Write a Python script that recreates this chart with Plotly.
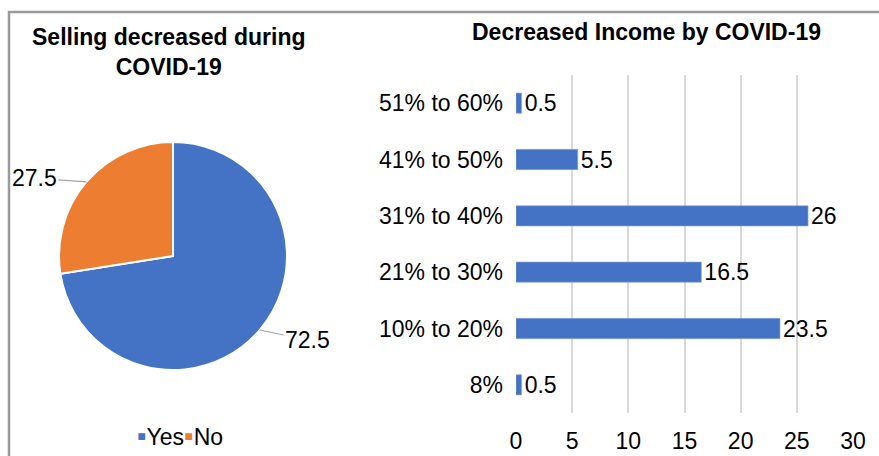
import math
import plotly.graph_objects as go

# Pie: did selling decrease during COVID-19?
pie_labels = ["Yes", "No"]
pie_values = [72.5, 27.5]
pie_colors = ["#4472C4", "#ED7D31"]

# Bar: share of income lost
income_bins = ["8%", "10% to 20%", "21% to 30%", "31% to 40%", "41% to 50%", "51% to 60%"]
income_values = [0.5, 23.5, 16.5, 26, 5.5, 0.5]
x_ticks = [0, 5, 10, 15, 20, 25, 30]

W, H = 879, 456
FONT = "Liberation Sans, Arial, sans-serif"
TXT = 23

def px_x(v):
    return v / W

def px_y(v):
    return 1 - v / H

fig = go.Figure()

# pie placement (pixels)
pie_cx, pie_cy, pie_r = 173, 256, 114
fig.add_trace(go.Pie(
    labels=pie_labels,
    values=pie_values,
    marker=dict(colors=pie_colors, line=dict(color="white", width=2)),
    sort=False,
    direction="clockwise",
    rotation=0,
    textinfo="none",
    hoverinfo="label+value",
    domain=dict(x=[px_x(pie_cx - pie_r), px_x(pie_cx + pie_r)],
                y=[px_y(pie_cy + pie_r), px_y(pie_cy - pie_r)]),
    showlegend=False,
))

fig.add_trace(go.Bar(
    y=income_bins,
    x=income_values,
    orientation="h",
    marker=dict(color="#4472C4", line=dict(color="#8FAADC", width=0.6)),
    width=0.36,
    text=[f"{v:g}" for v in income_values],
    textposition="outside",
    constraintext="none",
    textfont=dict(family=FONT, size=TXT, color="black"),
    cliponaxis=False,
    showlegend=False,
    xaxis="x", yaxis="y",
))

# Data labels for the pie with leader lines, placed from each slice's mid-angle
annotations = []
total = sum(pie_values)
cum = 0.0
label_offsets = [(48, 10), (-52, -4)]
for val, (ax, ay) in zip(pie_values, label_offsets):
    mid = (cum + val / 2) / total * 2 * math.pi
    cum += val
    rx = pie_cx + math.sin(mid) * pie_r
    ry = pie_cy - math.cos(mid) * pie_r
    annotations.append(dict(
        x=px_x(rx), y=px_y(ry), xref="paper", yref="paper",
        text=f"{val:g}", showarrow=True, arrowhead=0, arrowwidth=1.2,
        arrowcolor="#A6A6A6", ax=ax, ay=ay,
        font=dict(family=FONT, size=TXT, color="black"),
    ))

# Pie legend: small coloured squares followed by the category names
legend_text = "".join(
    f"<span style='color:{c};font-size:27px'>\u25aa</span>{lab}"
    for lab, c in zip(pie_labels, pie_colors)
)
annotations.append(dict(
    x=px_x(180), y=px_y(436), xref="paper", yref="paper",
    text=legend_text, showarrow=False,
    font=dict(family=FONT, size=TXT, color="black"),
    xanchor="center", yanchor="middle",
))

annotations.append(dict(
    x=px_x(169), y=px_y(52), xref="paper", yref="paper",
    text="Selling decreased during<br>COVID-19", showarrow=False,
    font=dict(family=FONT, size=23, color="black", weight="bold"),
    align="center", xanchor="center", yanchor="middle",
))
annotations.append(dict(
    x=px_x(646), y=px_y(32), xref="paper", yref="paper",
    text="Decreased Income by COVID-19", showarrow=False,
    font=dict(family=FONT, size=23, color="black", weight="bold"),
    xanchor="center", yanchor="middle",
))

fig.update_layout(
    width=W, height=H,
    margin=dict(l=0, r=0, t=0, b=0, autoexpand=False),
    paper_bgcolor="white",
    plot_bgcolor="white",
    font=dict(family=FONT, size=TXT, color="black"),
    annotations=annotations,
    showlegend=False,
    xaxis=dict(
        domain=[px_x(516), px_x(853)],
        range=[0, 30],
        tickvals=x_ticks,
        showgrid=True, gridcolor="#D9D9D9", gridwidth=1.5,
        zeroline=False, showline=False,
        ticks="", ticklabelstandoff=12,
        tickfont=dict(family=FONT, size=TXT, color="black"),
        automargin=False,
        fixedrange=True,
    ),
    yaxis=dict(
        domain=[px_y(413), px_y(75)],
        categoryorder="array", categoryarray=income_bins,
        showgrid=False, zeroline=False, showline=False,
        ticks="", ticklabelstandoff=12,
        tickfont=dict(family=FONT, size=TXT, color="black"),
        automargin=False,
        fixedrange=True,
    ),
    shapes=[dict(
        type="rect", xref="paper", yref="paper",
        x0=px_x(9), x1=1.05, y0=-0.05, y1=px_y(12),
        line=dict(color="#9A9A9A", width=2.5), fillcolor="rgba(0,0,0,0)",
        layer="below",
    )],
)

fig.write_html("out.html")
